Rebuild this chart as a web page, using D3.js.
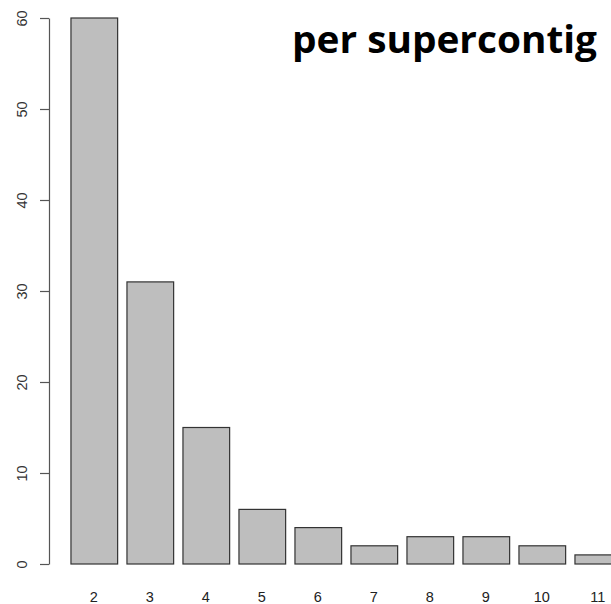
<!DOCTYPE html>
<html>
<head>
<meta charset="utf-8">
<script src="https://cdn.jsdelivr.net/npm/d3@7"></script>
<style>
  html, body { margin: 0; padding: 0; background: #fff; overflow: hidden; }
</style>
</head>
<body>
<svg id="chart"></svg>
<script>
const categories = ['2', '3', '4', '5', '6', '7', '8', '9', '10', '11'];
const counts = [60, 31, 15, 6, 4, 2, 3, 3, 2, 1];
const yTicks = [0, 10, 20, 30, 40, 50, 60];
const title = 'per supercontig';

const w = 611, h = 604;
const svg = d3.select('#chart')
  .attr('width', w)
  .attr('height', h)
  .style('background', '#FFFFFF');

// R-style barplot: width 1, space 0.2
const xScale = d3.scaleBand()
  .domain(categories)
  .range([66.3, 626.3])
  .paddingInner(0.2 / 1.2)
  .paddingOuter(0.1 / 1.2);

const yScale = d3.scaleLinear()
  .domain([0, 60])
  .range([564, 18]);

svg.selectAll('.bar')
  .data(counts)
  .join('rect')
  .attr('class', 'bar')
  .attr('x', (d, i) => xScale(categories[i]))
  .attr('y', d => yScale(d))
  .attr('width', xScale.bandwidth())
  .attr('height', d => yScale(0) - yScale(d))
  .attr('fill', '#BEBEBE')
  .attr('stroke', '#333333')
  .attr('stroke-width', 1.2);

// y axis
const yAxis = d3.axisLeft(yScale)
  .tickValues(yTicks)
  .tickSize(9)
  .tickSizeOuter(0)
  .tickPadding(14);
const gy = svg.append('g')
  .attr('transform', 'translate(49,0)')
  .call(yAxis);
gy.select('.domain').attr('stroke', '#555').attr('stroke-width', 1.2);
gy.selectAll('.tick line').attr('stroke', '#555').attr('stroke-width', 1.2);
gy.selectAll('.tick text')
  .attr('font-family', 'Liberation Sans, Arial, sans-serif')
  .attr('font-size', 14.5)
  .attr('fill', '#333')
  .attr('x', 0)
  .attr('dy', 0)
  .attr('text-anchor', 'middle')
  .attr('transform', 'translate(-22,0) rotate(-90)');

// x labels
svg.selectAll('.xlab')
  .data(categories)
  .join('text')
  .attr('class', 'xlab')
  .attr('x', d => xScale(d) + xScale.bandwidth() / 2 - 0.5)
  .attr('y', 602)
  .attr('text-anchor', 'middle')
  .attr('font-family', 'Liberation Sans, Arial, sans-serif')
  .attr('font-size', 14.5)
  .attr('fill', '#222')
  .text(d => d);

// title
svg.append('text')
  .attr('x', 292)
  .attr('y', 53)
  .attr('font-family', 'Open Sans, sans-serif')
  .attr('font-weight', 'bold')
  .attr('font-size', 38)
  .attr('textLength', 305)
  .attr('lengthAdjust', 'spacingAndGlyphs')
  .attr('fill', '#000')
  .text(title);
</script>
</body>
</html>
